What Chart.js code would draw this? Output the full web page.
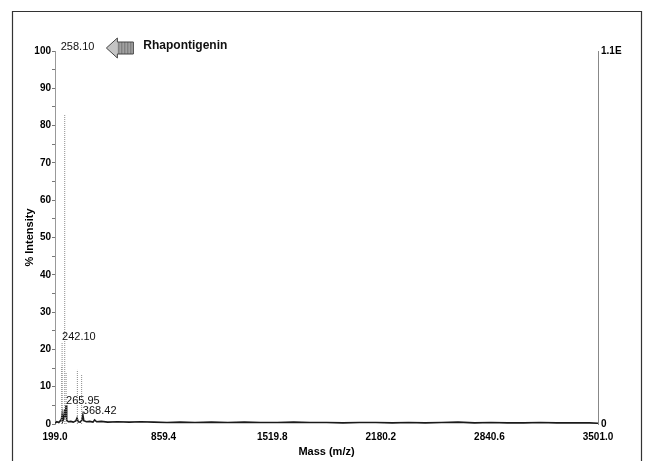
<!DOCTYPE html>
<html>
<head>
<meta charset="utf-8">
<title>Mass spectrum</title>
<script src="https://cdn.jsdelivr.net/npm/chart.js@4.4.1/dist/chart.umd.min.js"></script>
<style>
  html, body { margin: 0; padding: 0; background: #fff; }
  canvas { display: block; }
</style>
</head>
<body>
<canvas id="spectrum" width="647" height="461"></canvas>
<script>
// m/z axis
const xMin = 199.0;
const xMax = 3501.0;
const xTicks = [199.0, 859.4, 1519.8, 2180.2, 2840.6, 3501.0];

// thin centroid sticks (m/z, % intensity)
const stickMz  = [240.0, 242.10, 258.10, 266.5, 335.0, 361.0];
const stickPct = [15.4, 22.0, 83.0, 13.7, 14.5, 13.4];

// continuous trace along the baseline (m/z, % intensity)
const profileMz = [199, 210, 222, 232, 238, 242.1, 246, 252, 258.1, 262, 265.95, 270, 280, 295,
  310, 325, 333, 340, 352, 362, 368.42, 374, 390, 410, 430, 440, 452, 480, 520, 580, 650, 720,
  800, 880, 960, 1050, 1150, 1250, 1350, 1450, 1550, 1650, 1750, 1850, 1950, 2050, 2150, 2250,
  2350, 2450, 2550, 2650, 2750, 2850, 2950, 3050, 3150, 3250, 3350, 3450, 3501];
const profilePct = [0.2, 0.6, 0.4, 0.9, 1.2, 2.5, 0.8, 1.4, 4.0, 1.8, 5.0, 1.0, 0.6, 0.7,
  0.5, 0.8, 1.6, 0.6, 0.5, 1.0, 2.4, 0.9, 0.6, 0.7, 0.5, 1.1, 0.6, 0.7, 0.5, 0.6, 0.5, 0.6,
  0.5, 0.4, 0.5, 0.4, 0.5, 0.4, 0.5, 0.4, 0.4, 0.5, 0.4, 0.4, 0.3, 0.4, 0.4, 0.3,
  0.4, 0.3, 0.4, 0.5, 0.3, 0.4, 0.3, 0.3, 0.4, 0.3, 0.3, 0.3, 0.2];

// labelled peaks
const peakLabels = ['242.10', '265.95', '368.42'];
const basePeak = '258.10';
const compoundName = 'Rhapontigenin';
const rightTop = '1.1E';

const FONT = '"Liberation Sans", Arial, Helvetica, sans-serif';

// stick points, separated by gaps so each one is its own line
const stickPoints = [];
stickMz.forEach((mz, i) => {
  stickPoints.push({ x: mz, y: 0 }, { x: mz, y: stickPct[i] }, { x: mz, y: null });
});
const profilePoints = profileMz.map((mz, i) => ({ x: mz, y: profilePct[i] }));

// height of the tallest mark at a given m/z
function peakHeight(mz) {
  let h = 0;
  stickMz.forEach((m, i) => { if (Math.abs(m - mz) < 0.01) h = Math.max(h, stickPct[i]); });
  profileMz.forEach((m, i) => { if (Math.abs(m - mz) < 0.01) h = Math.max(h, profilePct[i]); });
  return h;
}

// frame, peak labels and the compound tag
const annotations = {
  id: 'annotations',
  afterDraw(chart) {
    const ctx = chart.ctx;
    const xs = chart.scales.x;
    const ys = chart.scales.y;
    ctx.save();

    // outer frame
    ctx.strokeStyle = '#333';
    ctx.lineWidth = 1.2;
    ctx.beginPath();
    ctx.moveTo(12.5, 461);
    ctx.lineTo(12.5, 11.5);
    ctx.lineTo(641.5, 11.5);
    ctx.lineTo(641.5, 461);
    ctx.stroke();

    // peak labels
    ctx.fillStyle = '#111';
    ctx.font = '11px ' + FONT;
    ctx.textAlign = 'left';
    ctx.textBaseline = 'bottom';
    peakLabels.forEach(txt => {
      const mz = parseFloat(txt);
      const px = xs.getPixelForValue(mz);
      const py = ys.getPixelForValue(peakHeight(mz));
      ctx.fillText(txt, px, py + 1);
    });

    // base peak tag with arrow
    const bx = xs.getPixelForValue(parseFloat(basePeak)) - 4;
    const by = ys.getPixelForValue(100) - 4;
    ctx.textBaseline = 'middle';
    ctx.fillText(basePeak, bx, by);
    const ax = bx + ctx.measureText(basePeak).width + 12;
    drawArrow(ctx, ax, by + 1);
    ctx.font = 'bold 12px ' + FONT;
    ctx.fillText(compoundName, ax + 37, by - 1);

    ctx.restore();
  }
};

function arrowPath(ctx, x, y) {
  ctx.beginPath();
  ctx.moveTo(x, y);
  ctx.lineTo(x + 11, y - 10);
  ctx.lineTo(x + 11, y - 6);
  ctx.lineTo(x + 27, y - 6);
  ctx.lineTo(x + 27, y + 6);
  ctx.lineTo(x + 11, y + 6);
  ctx.lineTo(x + 11, y + 10);
  ctx.closePath();
}

function drawArrow(ctx, x, y) {
  ctx.save();
  arrowPath(ctx, x, y);
  ctx.fillStyle = '#c4c4c4';
  ctx.fill();
  // hatching inside the arrow body
  ctx.clip();
  ctx.strokeStyle = '#777';
  ctx.lineWidth = 1;
  for (let i = 0; i < 30; i += 3) {
    ctx.beginPath();
    ctx.moveTo(x + 12 + i * 0.5, y - 6);
    ctx.lineTo(x + 12 + i * 0.5, y + 6);
    ctx.stroke();
  }
  ctx.restore();
  ctx.save();
  arrowPath(ctx, x, y);
  ctx.strokeStyle = '#444';
  ctx.lineWidth = 1;
  ctx.stroke();
  ctx.restore();
}

const tickFont = { family: FONT, size: 10, weight: 'bold' };
const titleFont = { family: FONT, size: 11, weight: 'bold' };

new Chart(document.getElementById('spectrum'), {
  type: 'scatter',
  data: {
    datasets: [
      {
        label: 'sticks',
        data: stickPoints,
        showLine: true,
        spanGaps: false,
        borderColor: '#8c8c8c',
        borderWidth: 1,
        borderDash: [1, 1],
        pointRadius: 0
      },
      {
        label: 'trace',
        data: profilePoints,
        showLine: true,
        borderColor: '#1a1a1a',
        borderWidth: 1.6,
        pointRadius: 0
      }
    ]
  },
  options: {
    responsive: false,
    animation: false,
    layout: { padding: { top: 51, left: 0, right: 0, bottom: 0 } },
    plugins: {
      legend: { display: false },
      tooltip: { enabled: false }
    },
    scales: {
      x: {
        type: 'linear',
        min: xMin,
        max: xMax,
        afterBuildTicks: s => { s.ticks = xTicks.map(v => ({ value: v })); },
        afterFit: s => { s.height = 37; },
        ticks: {
          autoSkip: false,
          maxRotation: 0,
          padding: 7,
          color: '#000',
          font: tickFont,
          callback: v => v.toFixed(1)
        },
        grid: { display: false, drawTicks: false },
        border: { display: false },
        title: {
          display: true,
          text: 'Mass (m/z)',
          color: '#000',
          font: titleFont,
          padding: { top: 0, bottom: 2 }
        }
      },
      y: {
        position: 'left',
        min: 0,
        max: 100,
        afterFit: s => { s.width = 55; },
        ticks: {
          stepSize: 5,
          padding: 1,
          color: '#000',
          font: tickFont,
          callback: v => (v % 10 === 0 ? v : '')
        },
        grid: { drawOnChartArea: false, tickLength: 3, color: '#777' },
        border: { display: true, color: '#999', dash: [1, 2] },
        title: {
          display: true,
          text: '% Intensity',
          color: '#000',
          font: titleFont,
          padding: { top: 23, bottom: 0 }
        }
      },
      y2: {
        position: 'right',
        min: 0,
        max: 100,
        afterBuildTicks: s => { s.ticks = [{ value: 0 }, { value: 100 }]; },
        afterFit: s => { s.width = 49; },
        ticks: {
          padding: 3,
          color: '#000',
          font: tickFont,
          callback: v => (v === 0 ? '0' : rightTop)
        },
        grid: { display: false, drawTicks: false },
        border: { display: true, color: '#888', dash: [1, 2] }
      }
    }
  },
  plugins: [annotations]
});
</script>
</body>
</html>
